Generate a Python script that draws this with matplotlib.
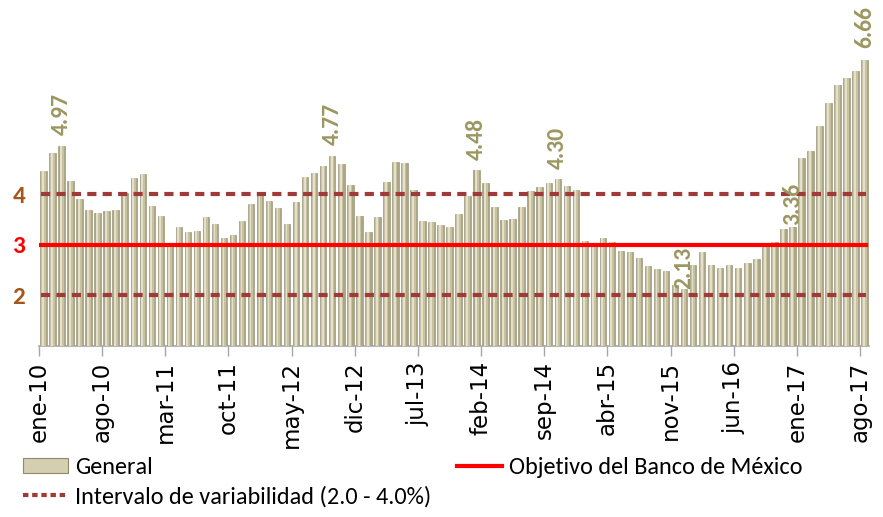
import matplotlib
matplotlib.use("Agg")
import matplotlib.pyplot as plt
from matplotlib.patches import Rectangle
from matplotlib.lines import Line2D

# ---------------- data ----------------
months_es = ["ene", "feb", "mar", "abr", "may", "jun", "jul", "ago", "sep", "oct", "nov", "dic"]
categories = [f"{m}-{y:02d}" for y in range(10, 18) for m in months_es][:92]

inflation = [
    4.46, 4.83, 4.97, 4.27, 3.92, 3.69, 3.64, 3.68, 3.70, 4.02, 4.32, 4.40,
    3.78, 3.57, 3.04, 3.36, 3.25, 3.28, 3.55, 3.42, 3.14, 3.20, 3.48, 3.82,
    4.05, 3.87, 3.73, 3.41, 3.85, 4.34, 4.42, 4.57, 4.77, 4.60, 4.18, 3.57,
    3.25, 3.55, 4.25, 4.65, 4.63, 4.09, 3.47, 3.46, 3.39, 3.36, 3.62, 3.97,
    4.48, 4.23, 3.76, 3.50, 3.51, 3.75, 4.07, 4.15, 4.22, 4.30, 4.17, 4.08,
    3.07, 3.00, 3.14, 3.06, 2.88, 2.87, 2.74, 2.59, 2.52, 2.48, 2.21, 2.13,
    2.61, 2.87, 2.60, 2.54, 2.60, 2.54, 2.65, 2.73, 2.97, 3.06, 3.31, 3.36,
    4.72, 4.86, 5.35, 5.82, 6.16, 6.31, 6.44, 6.66,
]
labelled = ["mar-10", "sep-12", "ene-14", "oct-14", "dic-15", "dic-16", "ago-17"]
label_offsets = [7.5, 7.5, 7.5, 7.5, 0.0, 1.5, 8.5]
target = 3.0
band_low, band_high = 2.0, 4.0
yticks = [2, 3, 4]
ytick_colors = ["#A5561C", "#FF0000", "#A5561C"]
tick_step = 7

narrow = "Carlito"

fig = plt.figure(figsize=(8.83, 5.17), dpi=100)
ax = fig.add_axes([0.0442, 0.3308, 0.940, 0.586])

x = list(range(len(categories)))
ax.bar(x, inflation, width=0.72, color="#ADA685", edgecolor="#8F8A6C",
       linewidth=0.4, zorder=2)
# lighter core to mimic the cylindrical gradient
ax.bar(x, inflation, width=0.46, color="#C8C2A2", linewidth=0, zorder=3)
ax.bar([i - 0.06 for i in x], inflation, width=0.2, color="#E4E0CA",
       linewidth=0, zorder=3)

ax.axhline(target, color="#FF0000", lw=3, zorder=4, xmin=0.002, xmax=0.996)
for v in (band_low, band_high):
    ax.axhline(v, color="#A03A38", lw=3, ls=(0, (2.2, 1.5)), zorder=4,
               xmin=0.002, xmax=0.996)

for lab, off in zip(labelled, label_offsets):
    i = categories.index(lab)
    ax.annotate(f"{inflation[i]:.2f}", (i, inflation[i]), xytext=(0, off),
                textcoords="offset points", rotation=90, ha="center", va="bottom",
                fontsize=17, fontweight="bold", color="#9C9660",
                family=narrow, annotation_clip=False, zorder=6)

ax.set_xlim(-0.5, len(categories) - 0.5)
ax.set_ylim(1.0, 7.0)

ax.set_xticks([i - 0.5 for i in x[::tick_step]])
ax.set_xticklabels(categories[::tick_step], rotation=90, fontsize=16.5,
                   family="DejaVu Sans", va="top")
ax.tick_params(axis="x", length=7, width=1, color="#A6A6A6", pad=4)

ax.set_yticks(yticks)
ax.set_yticklabels([str(t) for t in yticks], fontsize=18, fontweight="bold",
                   family=narrow)
for t, c in zip(ax.get_yticklabels(), ytick_colors):
    t.set_color(c)
ax.tick_params(axis="y", length=0, pad=10)

for s in ("top", "right", "left"):
    ax.spines[s].set_visible(False)
ax.spines["bottom"].set_color("#A6A6A6")
ax.spines["bottom"].set_linewidth(1.2)

handles = [
    Rectangle((0, 0), 1, 1, facecolor="#D4CFB0", edgecolor="#8F8A6C", lw=0.8),
    Line2D([], [], color="#A03A38", lw=3, ls=(0, (1.3, 0.9))),
    Line2D([], [], color="#FF0000", lw=3),
]
labels = ["General", "Intervalo de variabilidad (2.0 - 4.0%)", "Objetivo del Banco de México"]
fig.legend(handles, labels, ncol=2, loc="upper left",
           bbox_to_anchor=(23 / 883, 1 - 457 / 517),
           frameon=False, prop={"family": narrow, "size": 17.5},
           handlelength=1.85, handleheight=0.62, handletextpad=0.3,
           columnspacing=1.05, labelspacing=0.33, borderpad=0, borderaxespad=0)

fig.savefig("out.png", dpi=100)
